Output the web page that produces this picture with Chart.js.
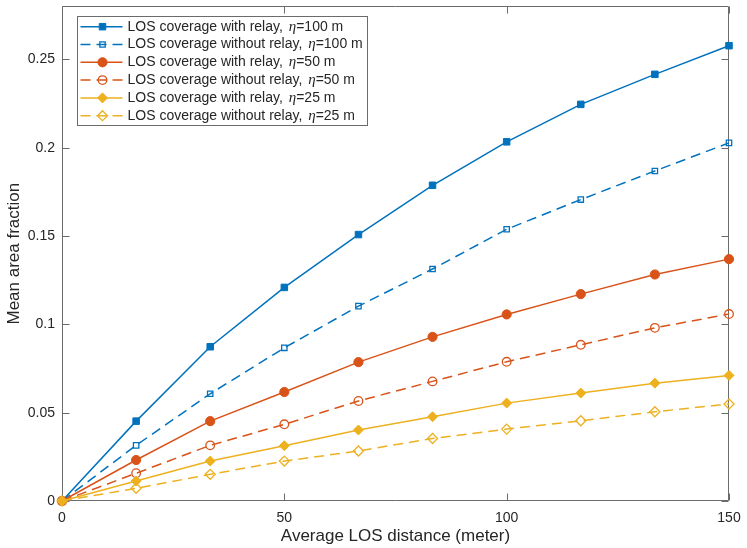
<!DOCTYPE html>
<html>
<head>
<meta charset="utf-8">
<script src="https://cdn.jsdelivr.net/npm/chart.js@4.4.1/dist/chart.umd.min.js"></script>
<style>
html, body { margin: 0; padding: 0; background: #fff; }
canvas { display: block; }
</style>
</head>
<body>
<canvas id="myChart" width="747" height="548"></canvas>
<script>
//MEAN AREA FRACTION VS AVERAGE LOS DISTANCE
//values
//==============================================
var distances = [0, 16.67, 33.33, 50, 66.67, 83.33, 100, 116.67, 133.33, 150];

var relay100   = [0, 0.0452, 0.0873, 0.1209, 0.1508, 0.1787, 0.2033, 0.2245, 0.2415, 0.2577];
var noRelay100 = [0, 0.0315, 0.0607, 0.0867, 0.1103, 0.1313, 0.1538, 0.1706, 0.1868, 0.2027];
var relay50    = [0, 0.0232, 0.0452, 0.0617, 0.0786, 0.0929, 0.1056, 0.1171, 0.1282, 0.1369];
var noRelay50  = [0, 0.0157, 0.0315, 0.0434, 0.0566, 0.0677, 0.0788, 0.0884, 0.0980, 0.1058];
var relay25    = [0, 0.0113, 0.0226, 0.0313, 0.0402, 0.0477, 0.0554, 0.0611, 0.0667, 0.0711];
var noRelay25  = [0, 0.0072, 0.0151, 0.0226, 0.0283, 0.0354, 0.0407, 0.0454, 0.0505, 0.0549];

var seriesLabels = [
    "LOS coverage with relay, η=100 m",
    "LOS coverage without relay, η=100 m",
    "LOS coverage with relay, η=50 m",
    "LOS coverage without relay, η=50 m",
    "LOS coverage with relay, η=25 m",
    "LOS coverage without relay, η=25 m"
];

var xTicks = [0, 50, 100, 150];
var yTicks = [0, 0.05, 0.1, 0.15, 0.2, 0.25];
var xMax = 150;
var yMax = 0.28;

var xTitle = "Average LOS distance (meter)";
var yTitle = "Mean area fraction";

window.onload = main;
var ctx;

var BLUE = "#0072BD";
var ORANGE = "#D95319";
var YELLOW = "#EDB120";
var AXIS = "#6b6b6b";
var TEXT = "#262626";
var SANS = '"Liberation Sans", Arial, Helvetica, sans-serif';

//main function starts chart
function main() {
    ctx = document.getElementById("myChart").getContext("2d");
    drawChart();
}

//pairs x values with a series
function points(values) {
    return values.map(function (v, i) {
        return {x: distances[i], y: v};
    });
}

//one MATLAB style line
function series(i, values, color, marker, radius, filled, dashed) {
    return {
        label: seriesLabels[i],
        data: points(values),
        borderColor: color,
        backgroundColor: color,
        borderWidth: 1.5,
        borderDash: dashed ? [10, 6] : [],
        pointStyle: marker,
        pointRadius: radius,
        pointBorderWidth: filled ? 1 : 1.3,
        pointBorderColor: color,
        pointBackgroundColor: filled ? color : "rgba(0,0,0,0)",
        tension: 0,
        fill: false,
        clip: false,
        order: 6 - i
    };
}

//box, inward ticks on all four sides
var matlabAxes = {
    id: 'matlabAxes',
    beforeDatasetsDraw: function (chart) {
        var c = chart.ctx;
        var a = chart.chartArea;
        var xs = chart.scales.x;
        var ys = chart.scales.y;
        var tl = 7;
        var L = Math.round(a.left) + 0.5, R = Math.round(a.right) - 0.5;
        var T = Math.round(a.top) + 0.5, B = Math.round(a.bottom) - 0.5;
        c.save();
        c.strokeStyle = AXIS;
        c.lineWidth = 1;
        c.beginPath();
        c.rect(L, T, R - L, B - T);
        xTicks.forEach(function (v) {
            var px = Math.round(xs.getPixelForValue(v)) + 0.5;
            c.moveTo(px, B); c.lineTo(px, B - tl);
            c.moveTo(px, T); c.lineTo(px, T + tl);
        });
        yTicks.forEach(function (v) {
            var py = Math.round(ys.getPixelForValue(v)) + 0.5;
            c.moveTo(L, py); c.lineTo(L + tl, py);
            c.moveTo(R, py); c.lineTo(R - tl, py);
        });
        c.stroke();
        c.restore();
    }
};

//legend box drawn like MATLAB's, eta in italic
var matlabLegend = {
    id: 'matlabLegend',
    afterDraw: function (chart) {
        var c = chart.ctx;
        var a = chart.chartArea;
        var font = '14px ' + SANS;
        var greek = 'italic 15px "Liberation Serif", "DejaVu Serif", serif';
        var rowH = 17.8;
        var x0 = Math.round(a.left) + 15.5;
        var y0 = Math.round(a.top) + 10.5;
        var textX = x0 + 50;

        c.save();
        //measure
        var maxW = 0;
        seriesLabels.forEach(function (s) {
            var parts = s.split("η");
            c.font = font;
            var w = c.measureText(parts[0]).width + c.measureText(parts[1]).width;
            c.font = greek;
            w += c.measureText("η").width + 2;
            if (w > maxW) maxW = w;
        });
        var boxW = Math.round(textX - x0 + maxW + 5);
        var boxH = Math.round(rowH * 6 + 2);

        c.fillStyle = "#fff";
        c.strokeStyle = AXIS;
        c.lineWidth = 1;
        c.fillRect(x0, y0, boxW, boxH);
        c.strokeRect(x0, y0, boxW, boxH);

        chart.data.datasets.forEach(function (ds, i) {
            var y = y0 + 10.2 + i * rowH;
            //sample line
            c.strokeStyle = ds.borderColor;
            c.lineWidth = ds.borderWidth;
            c.setLineDash(ds.borderDash);
            c.beginPath();
            c.moveTo(x0 + 3, y);
            c.lineTo(x0 + 45, y);
            c.stroke();
            c.setLineDash([]);
            //marker
            c.fillStyle = ds.pointBackgroundColor;
            c.strokeStyle = ds.pointBorderColor;
            c.lineWidth = ds.pointBorderWidth;
            Chart.helpers.drawPoint(c, {
                pointStyle: ds.pointStyle,
                radius: ds.pointRadius,
                rotation: 0,
                borderWidth: ds.pointBorderWidth
            }, x0 + 25, y);
            //text
            var parts = ds.label.split("η");
            var tx = textX;
            c.fillStyle = TEXT;
            c.textBaseline = "middle";
            c.textAlign = "left";
            c.font = font;
            c.fillText(parts[0], tx, y);
            tx += c.measureText(parts[0]).width + 2;
            c.font = greek;
            c.fillText("η", tx, y);
            tx += c.measureText("η").width;
            c.font = font;
            c.fillText(parts[1], tx, y);
        });
        c.restore();
    }
};

function drawChart() {
    new Chart(ctx, {
        type: 'line',
        data: {
            datasets: [
                series(0, relay100, BLUE, 'rect', 4.6, true, false),
                series(1, noRelay100, BLUE, 'rect', 3.8, false, true),
                series(2, relay50, ORANGE, 'circle', 4.6, true, false),
                series(3, noRelay50, ORANGE, 'circle', 4.3, false, true),
                series(4, relay25, YELLOW, 'rectRot', 5, true, false),
                series(5, noRelay25, YELLOW, 'rectRot', 5, false, true)
            ]
        },
        options: {
            responsive: false,
            animation: false,
            devicePixelRatio: 1,
            layout: {
                padding: {top: 6, right: 18, left: 0, bottom: 0}
            },
            plugins: {
                legend: {display: false},
                tooltip: {enabled: false}
            },
            scales: {
                x: {
                    type: 'linear',
                    min: 0,
                    max: xMax,
                    afterBuildTicks: function (scale) {
                        scale.ticks = xTicks.map(function (v) { return {value: v}; });
                    },
                    afterFit: function (scale) {
                        scale.height = 47;
                        scale.paddingLeft = 0;
                        scale.paddingRight = 0;
                    },
                    grid: {display: true, drawOnChartArea: false, drawTicks: false},
                    border: {display: false},
                    ticks: {
                        color: TEXT,
                        padding: 9,
                        maxRotation: 0,
                        font: {family: SANS, size: 14}
                    },
                    title: {
                        display: true,
                        text: xTitle,
                        color: TEXT,
                        padding: {top: 0, bottom: 1},
                        font: {family: SANS, size: 17}
                    }
                },
                y: {
                    type: 'linear',
                    min: 0,
                    max: yMax,
                    afterBuildTicks: function (scale) {
                        scale.ticks = yTicks.map(function (v) { return {value: v}; });
                    },
                    afterFit: function (scale) {
                        scale.width = 62;
                        scale.paddingTop = 0;
                        scale.paddingBottom = 0;
                    },
                    grid: {display: true, drawOnChartArea: false, drawTicks: false},
                    border: {display: false},
                    ticks: {
                        color: TEXT,
                        padding: 7,
                        font: {family: SANS, size: 14},
                        callback: function (v) { return String(Math.round(v * 100) / 100); }
                    },
                    title: {
                        display: true,
                        text: yTitle,
                        color: TEXT,
                        padding: {top: 4, bottom: 0},
                        font: {family: SANS, size: 17}
                    }
                }
            }
        },
        plugins: [matlabAxes, matlabLegend]
    });
}
</script>
</body>
</html>
